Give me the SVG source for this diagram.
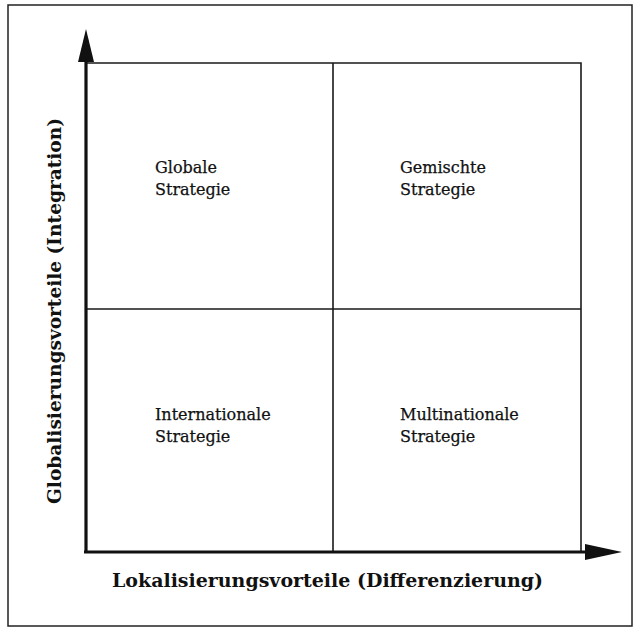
<svg xmlns="http://www.w3.org/2000/svg" width="633" height="628" viewBox="0 0 633 628">
<style>
.frame{fill:none;stroke:#222;stroke-width:1.5}
.grid{fill:none;stroke:#1a1a1a;stroke-width:1.6}
.axis{stroke:#111;stroke-width:3.2;fill:none}
.lbl{font-family:"DejaVu Serif","Liberation Serif",serif;font-size:16px;fill:#111;stroke:#111;stroke-width:0.25}
.ax{font-family:"DejaVu Serif","Liberation Serif",serif;font-size:18.5px;font-weight:bold;fill:#111}
</style>
<rect width="633" height="628" fill="#fff"/>
<rect class="frame" x="8" y="5" width="624" height="621"/>
<g id="connectors">
<path class="grid" d="M86 63 H581 V552 M333 63 V552 M86 309 H581"/>
<path class="axis" d="M86 553 V58"/>
<polygon points="86,29 78,62 94,62" fill="#111"/>
<path class="axis" d="M84 552 H588"/>
<polygon points="622,552 585,544 585,560" fill="#111"/>
</g>
<g id="n1"><text class="lbl" x="155" y="173">Globale</text><text class="lbl" x="155" y="195">Strategie</text></g>
<g id="n2"><text class="lbl" x="400" y="173">Gemischte</text><text class="lbl" x="400" y="195">Strategie</text></g>
<g id="n3"><text class="lbl" x="155" y="420">Internationale</text><text class="lbl" x="155" y="442">Strategie</text></g>
<g id="n4"><text class="lbl" x="400" y="420">Multinationale</text><text class="lbl" x="400" y="442">Strategie</text></g>
<g id="xlabel"><text class="ax" x="112" y="587" textLength="431" lengthAdjust="spacingAndGlyphs">Lokalisierungsvorteile (Differenzierung)</text></g>
<g id="ylabel"><text class="ax" transform="translate(61,504) rotate(-90)" x="0" y="0" textLength="386" lengthAdjust="spacingAndGlyphs">Globalisierungsvorteile (Integration)</text></g>
</svg>
